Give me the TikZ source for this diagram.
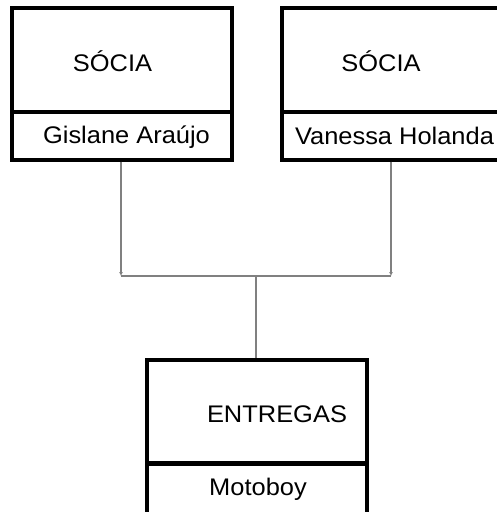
\documentclass[tikz,border=0pt]{standalone}
\usepackage{fontspec}
\setmainfont[FakeStretch=1.06]{Liberation Sans}
\usetikzlibrary{arrows.meta}
\begin{document}
\begin{tikzpicture}[x=1pt,y=-1pt,
  comp/.style={draw=black,line width=3.2pt,rectangle,inner sep=0pt,outer sep=0pt,fill=white},
  lbl/.style={anchor=base,inner sep=0pt,font=\fontsize{24}{28}\selectfont},
  conn/.style={draw=gray,line width=1.6pt},
  tip/.style={-{Latex[length=4pt,width=4pt]}}]
\clip (0,0) rectangle (497,512);
\fill[white] (0,0) rectangle (497,512);
% box 1
\node[comp,minimum width=220pt,minimum height=104pt] (h1) at (122,60) {};
\node[comp,minimum width=220pt,minimum height=48pt] (n1) at (122,136) {};
% box 2
\node[comp,minimum width=225pt,minimum height=104pt] (h2) at (394.5,60) {};
\node[comp,minimum width=225pt,minimum height=48pt] (n2) at (394.5,136) {};
% box 3
\node[comp,minimum width=220pt,minimum height=103pt] (h3) at (257,411.5) {};
\node[comp,minimum width=220pt,minimum height=53pt] (n3) at (257,489.5) {};
\draw[line width=5pt] (h3.south west) -- (h3.south east);
% labels
\node[lbl] (t1) at (112.5,71) {SÓCIA};
\node[lbl] (s1) at (126.5,143.5) {Gislane Araújo};
\node[lbl] (t2) at (381,71) {SÓCIA};
\node[lbl] (s2) at (394.5,144.5) {Vanessa Holanda};
\node[lbl] (t3) at (277,422) {ENTREGAS};
\node[lbl] (s3) at (258,495) {Motoboy};
% connectors
\coordinate (a1) at (121,161.6);
\coordinate (b1) at (121,276);
\coordinate (a2) at (391,161.6);
\coordinate (b2) at (391,276);
\coordinate (m) at (256,276);
\coordinate (m3) at (256,358.4);
\draw[conn,tip] (a1) -- (b1);
\draw[conn,tip] (a2) -- (b2);
\draw[conn] (b1) -- (b2);
\draw[conn] (m) -- (m3);
\end{tikzpicture}
\end{document}
